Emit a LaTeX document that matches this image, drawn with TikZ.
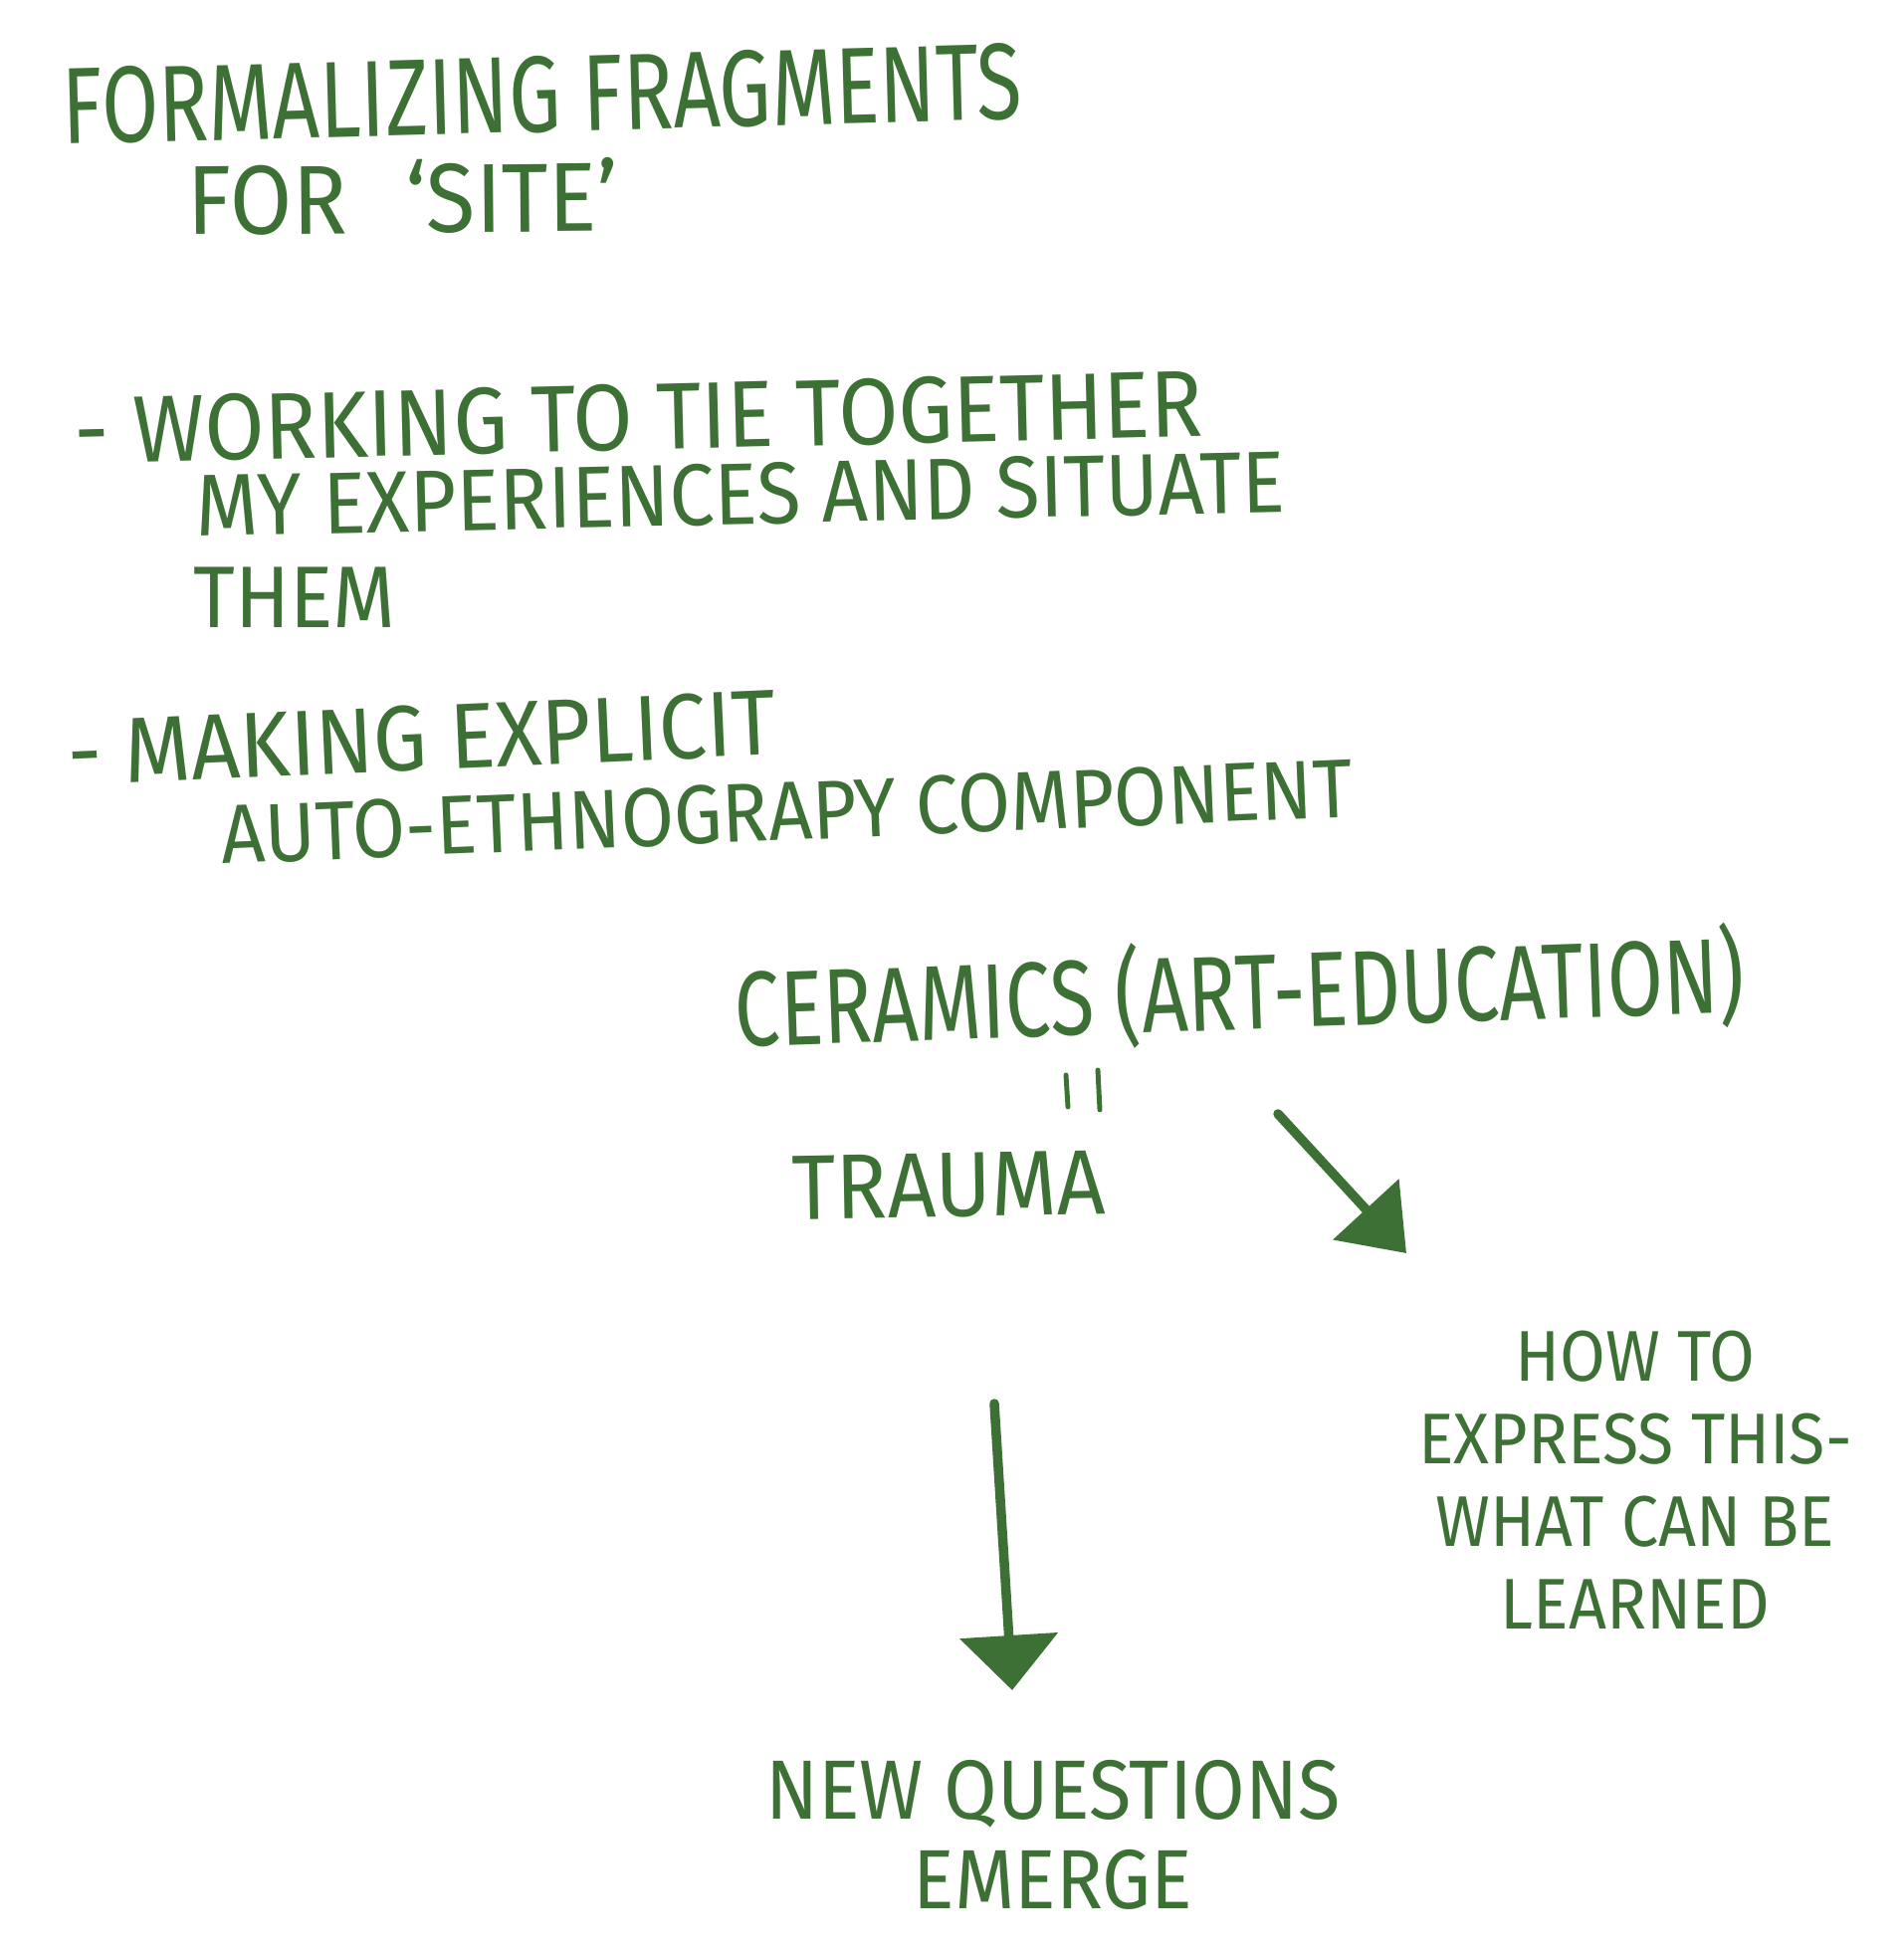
\documentclass[tikz,border=0pt]{standalone}
\usepackage{fontspec}
\usepackage[svgnames]{xcolor}
\usetikzlibrary{arrows.meta}
\newfontfamily\handfont[FakeStretch=0.92]{Fira Sans}
\newfontfamily\narrowfont[FakeStretch=0.76]{Fira Sans}
\definecolor{penink}{RGB}{61,112,53}

\begin{document}
\begin{tikzpicture}[x=0.01cm, y=-0.01cm,
            titlenode/.style={anchor=base west, inner sep=0pt, text=penink, font=\narrowfont\fontsize{30}{36}\selectfont},
            bulletnode/.style={anchor=base west, inner sep=0pt, text=penink, font=\handfont\fontsize{25}{30}\selectfont},
            thoughtnode/.style={anchor=north, inner sep=0pt, text=penink, align=center},
            penline/.style={color=penink, line width=2.7pt, line cap=round}
        ]
            \useasboundingbox (0,0) rectangle (1912,1964);

            % title
            \node[titlenode, font=\narrowfont\fontsize{31}{36}\selectfont, rotate=1.5] (title) at (63,145) {FORMALIZING FRAGMENTS};
            \node[bulletnode, font=\handfont\fontsize{28}{32}\selectfont, rotate=0.5] (site) at (188,236) {FOR\hspace{0.6em}‘SITE’};

            % bullets
            \node[bulletnode, font=\handfont\fontsize{27}{30}\selectfont, rotate=1.4] (tieline) at (75,466) {- WORKING TO TIE TOGETHER};
            \node[bulletnode, rotate=1.3] (expline) at (197,539) {MY EXPERIENCES AND SITUATE};
            \node[bulletnode] (themline) at (194,630) {THEM};
            \node[bulletnode, font=\handfont\fontsize{26.5}{30}\selectfont, rotate=2.5] (explicitline) at (69,789) {- MAKING EXPLICIT};
            \node[bulletnode, font=\handfont\fontsize{23.8}{28}\selectfont, rotate=2.4] (autoline) at (223,868) {AUTO-ETHNOGRAPY COMPONENT};

            % ceramics = trauma
            \node[titlenode, font=\narrowfont\fontsize{30.4}{36}\selectfont, rotate=2] (ceramics) at (739,1052) {CERAMICS (ART-EDUCATION)};
            \draw[penline, line width=1.4pt] (1071,1080) -- (1073,1112);
            \draw[penline, line width=1.4pt] (1103,1075) -- (1105,1115);
            \node[bulletnode, font=\handfont\fontsize{26.3}{30}\selectfont, rotate=1] (trauma) at (796,1225) {TRAUMA};

            % outcomes
            \node[thoughtnode, font=\handfont\fontsize{20.5}{23.6}\selectfont] (howto) at (1643,1336) {HOW TO\\EXPRESS THIS-\\WHAT CAN BE\\LEARNED};
            \node[thoughtnode, font=\handfont\fontsize{24}{25.6}\selectfont] (newq) at (1058,1768) {NEW QUESTIONS\\EMERGE};

            % arrows
            \coordinate (diagtail) at (1284,1119);
            \coordinate (diagtip) at (1413,1259);
            \draw[penline, -{Triangle[length=6mm, width=8.8mm]}] (diagtail) -- (diagtip);
            \coordinate (verttail) at (999,1410);
            \coordinate (verttip) at (1017,1698);
            \draw[penline, -{Triangle[length=5.5mm, width=9.7mm]}] (verttail) -- (verttip);

        \end{tikzpicture}
\end{document}
